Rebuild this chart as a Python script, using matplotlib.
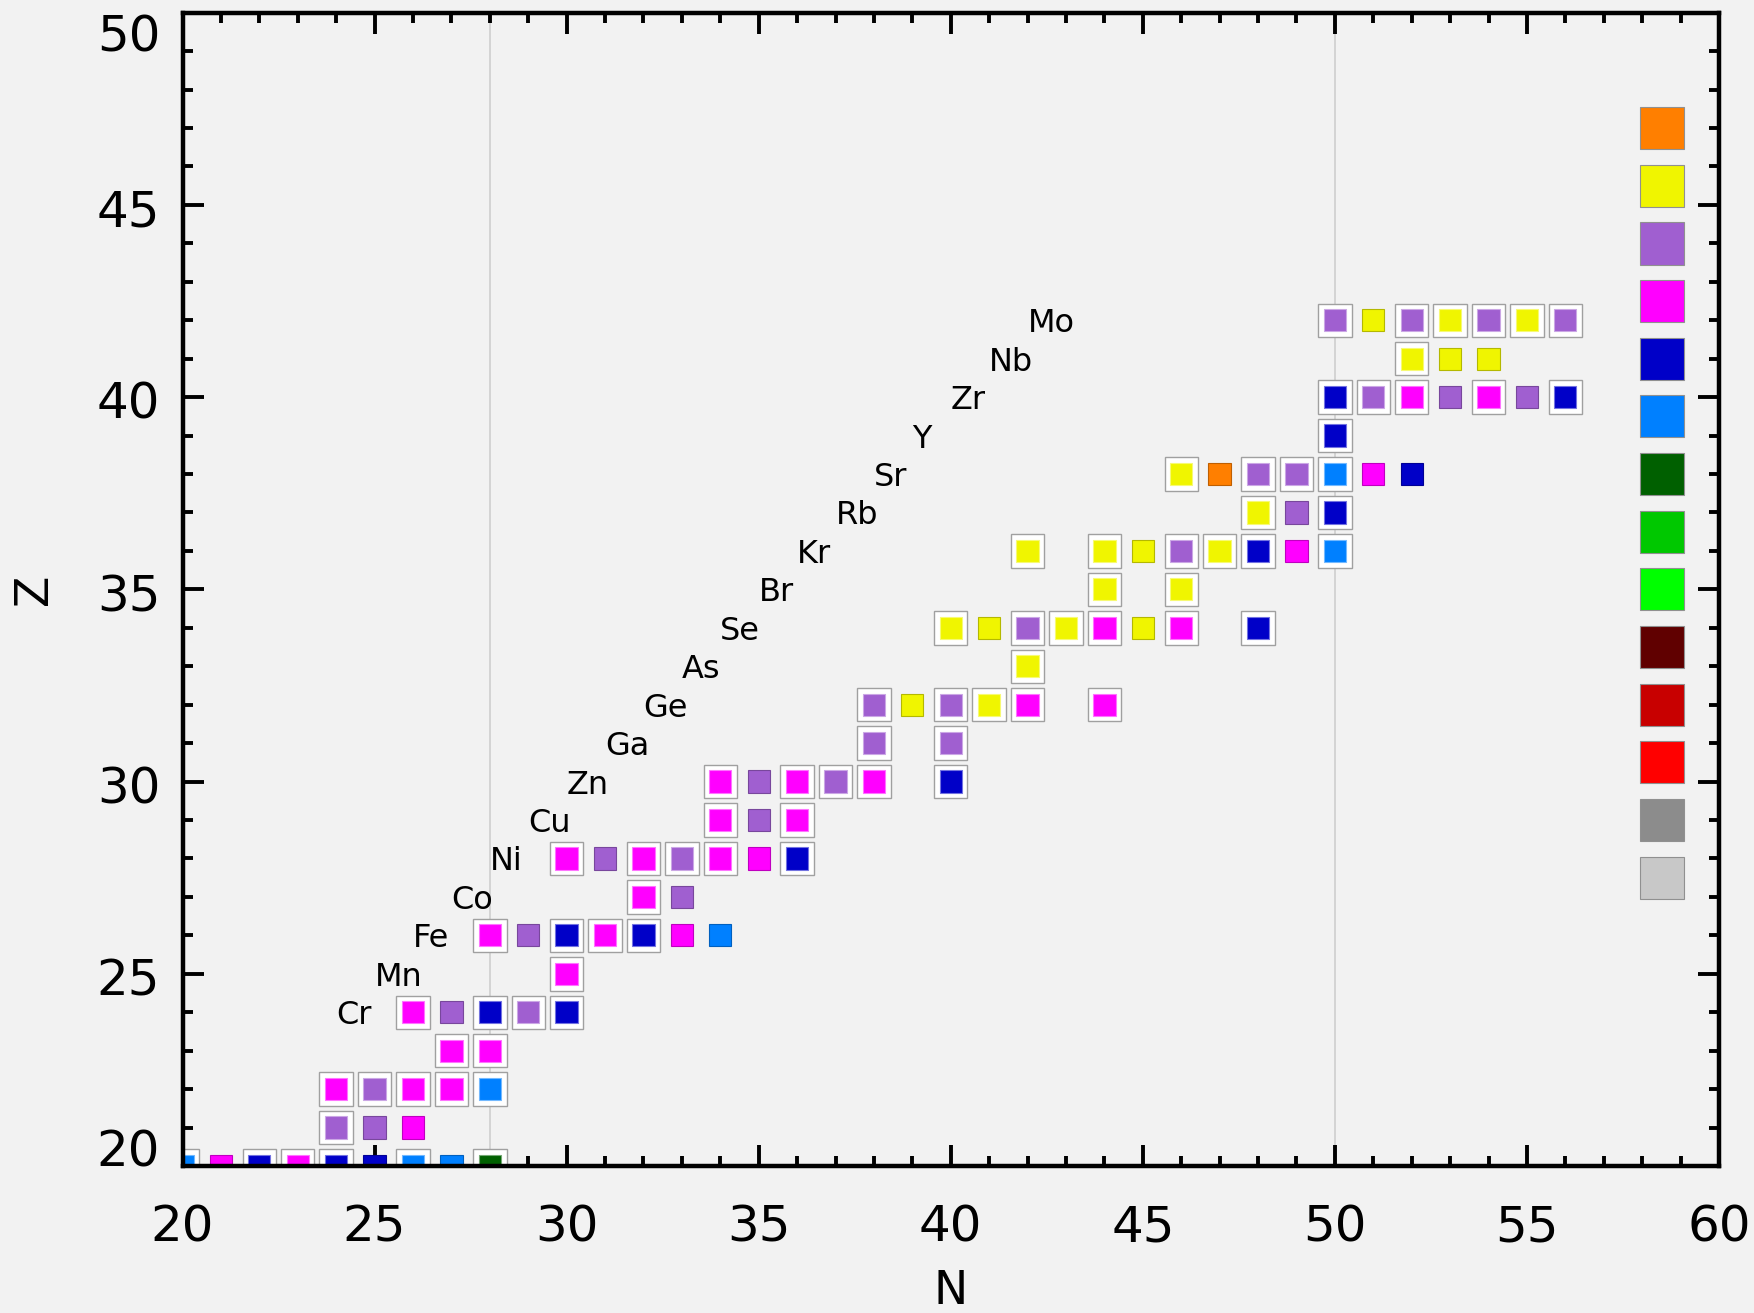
import matplotlib
matplotlib.use("Agg")
import matplotlib.pyplot as plt
from matplotlib.patches import Rectangle
from matplotlib.ticker import MultipleLocator
from matplotlib.colors import to_rgb
from matplotlib.transforms import ScaledTranslation

# Colour scale (top to bottom of the key on the right)
palette = ['#ff7f00', '#f0f500', '#a05fd0', '#ff00ff', '#0000c8', '#0080ff',
           '#006000', '#00c800', '#00ff00', '#600000', '#c80000', '#ff0000',
           '#8c8c8c', '#c8c8c8']
code_to_index = {'o': 0, 'y': 1, 'p': 2, 'm': 3, 'b': 4, 'a': 5, 'g': 6}

# Nuclides: proton number, neutron number, colour class, stable (1) or not (0)
iso_Z = [20, 20, 20, 20, 20, 20, 20, 20, 20,
         21, 21, 21,
         22, 22, 22, 22, 22,
         23, 23,
         24, 24, 24, 24, 24,
         25,
         26, 26, 26, 26, 26, 26, 26,
         27, 27,
         28, 28, 28, 28, 28, 28, 28,
         29, 29, 29,
         30, 30, 30, 30, 30, 30,
         31, 31,
         32, 32, 32, 32, 32, 32,
         33,
         34, 34, 34, 34, 34, 34, 34, 34,
         35, 35,
         36, 36, 36, 36, 36, 36, 36, 36,
         37, 37, 37,
         38, 38, 38, 38, 38, 38, 38,
         39,
         40, 40, 40, 40, 40, 40, 40,
         41, 41, 41,
         42, 42, 42, 42, 42, 42, 42]
iso_N = [20, 21, 22, 23, 24, 25, 26, 27, 28,
         24, 25, 26,
         24, 25, 26, 27, 28,
         27, 28,
         26, 27, 28, 29, 30,
         30,
         28, 29, 30, 31, 32, 33, 34,
         32, 33,
         30, 31, 32, 33, 34, 35, 36,
         34, 35, 36,
         34, 35, 36, 37, 38, 40,
         38, 40,
         38, 39, 40, 41, 42, 44,
         42,
         40, 41, 42, 43, 44, 45, 46, 48,
         44, 46,
         42, 44, 45, 46, 47, 48, 49, 50,
         48, 49, 50,
         46, 47, 48, 49, 50, 51, 52,
         50,
         50, 51, 52, 53, 54, 55, 56,
         52, 53, 54,
         50, 51, 52, 53, 54, 55, 56]
iso_class = ['a', 'm', 'b', 'm', 'b', 'b', 'a', 'a', 'g',
             'p', 'p', 'm',
             'm', 'p', 'm', 'm', 'a',
             'm', 'm',
             'm', 'p', 'b', 'p', 'b',
             'm',
             'm', 'p', 'b', 'm', 'b', 'm', 'a',
             'm', 'p',
             'm', 'p', 'm', 'p', 'm', 'm', 'b',
             'm', 'p', 'm',
             'm', 'p', 'm', 'p', 'm', 'b',
             'p', 'p',
             'p', 'y', 'p', 'y', 'm', 'm',
             'y',
             'y', 'y', 'p', 'y', 'm', 'y', 'm', 'b',
             'y', 'y',
             'y', 'y', 'y', 'p', 'y', 'b', 'm', 'a',
             'y', 'p', 'b',
             'y', 'o', 'p', 'p', 'a', 'm', 'b',
             'b',
             'b', 'p', 'm', 'p', 'm', 'p', 'b',
             'y', 'y', 'y',
             'p', 'y', 'p', 'y', 'p', 'y', 'p']
iso_stable = [1, 0, 1, 1, 1, 0, 1, 0, 1,
              1, 0, 0,
              1, 1, 1, 1, 1,
              1, 1,
              1, 0, 1, 1, 1,
              1,
              1, 0, 1, 1, 1, 0, 0,
              1, 0,
              1, 0, 1, 1, 1, 0, 1,
              1, 0, 1,
              1, 0, 1, 1, 1, 1,
              1, 1,
              1, 0, 1, 1, 1, 1,
              1,
              1, 0, 1, 1, 1, 0, 1, 1,
              1, 1,
              1, 1, 0, 1, 1, 1, 0, 1,
              1, 0, 1,
              1, 0, 1, 1, 1, 0, 0,
              1,
              1, 1, 1, 0, 1, 0, 1,
              1, 0, 0,
              1, 0, 1, 1, 1, 1, 1]

# Element names written along the diagonal
elem_Z = list(range(24, 43))
elem_sym = ['Cr', 'Mn', 'Fe', 'Co', 'Ni', 'Cu', 'Zn', 'Ga', 'Ge', 'As',
            'Se', 'Br', 'Kr', 'Rb', 'Sr', 'Y', 'Zr', 'Nb', 'Mo']

magic_N = [28, 50]

x_ticks = [20, 25, 30, 35, 40, 45, 50, 55, 60]
y_ticks = [20, 25, 30, 35, 40, 45, 50]

BG = '#f2f2f2'
INNER = 0.58
FRAME = 0.87


def shade(col, f):
    r, g, b = to_rgb(col)
    return (r * f, g * f, b * f)


def tint(col, f):
    r, g, b = to_rgb(col)
    return (r + (1 - r) * f, g + (1 - g) * f, b + (1 - b) * f)


fig = plt.figure(figsize=(17.54, 13.13), dpi=100, facecolor=BG)
ax = fig.add_axes([182.5 / 1754, 1 - 1166 / 1313, (1719 - 182.5) / 1754, (1166 - 12.7) / 1313])
ax.set_facecolor(BG)
ax.set_xlim(x_ticks[0], x_ticks[-1])
ax.set_ylim(y_ticks[0], y_ticks[-1])

for n in magic_N:
    ax.axvline(n, color='#cccccc', lw=1.1, zorder=1)

for z, n, c, s in zip(iso_Z, iso_N, iso_class, iso_stable):
    col = palette[code_to_index[c]]
    if s:
        ax.add_patch(Rectangle((n - FRAME / 2, z - FRAME / 2), FRAME, FRAME,
                               facecolor='white', edgecolor='#a0a0a0', lw=1.0, zorder=3))
        edge = tint(col, 0.45)
    else:
        edge = shade(col, 0.75)
    ax.add_patch(Rectangle((n - INNER / 2, z - INNER / 2), INNER, INNER,
                           facecolor=col, edgecolor=edge, lw=0.8, zorder=3.2))

for z, sym in zip(elem_Z, elem_sym):
    ax.text(z, z, sym, ha='left', va='center_baseline', fontsize=23,
            family='DejaVu Sans', color='black', zorder=4)

# Colour key
key_w, key_h, key_step = 1.15, 1.1, 1.5
for i, col in enumerate(palette):
    zc = 47.0 - key_step * i
    ax.add_patch(Rectangle((57.95, zc - key_h / 2), key_w, key_h,
                           facecolor=col, edgecolor='#909090', lw=0.8, zorder=3))

ax.xaxis.set_major_locator(MultipleLocator(5))
ax.xaxis.set_minor_locator(MultipleLocator(1))
ax.yaxis.set_major_locator(MultipleLocator(5))
ax.yaxis.set_minor_locator(MultipleLocator(1))
ax.set_xticks(x_ticks)
ax.set_yticks(y_ticks)
ax.tick_params(which='both', direction='in', top=True, right=True, color='black')
ax.tick_params(which='major', length=15, width=2.8)
ax.tick_params(which='minor', length=7, width=2.8)
ax.tick_params(axis='x', which='major', labelsize=36, pad=27)
ax.tick_params(axis='y', which='major', labelsize=36, pad=16)

# Keep the end labels of the Z axis inside the frame height
ymajor = ax.yaxis.get_major_ticks()
for tick, val in zip(ymajor, y_ticks):
    if val == y_ticks[0]:
        dy = 13 / 72
    elif val == y_ticks[-1]:
        dy = -14 / 72
    else:
        dy = -2 / 72
    tick.label1.set_transform(tick.label1.get_transform() +
                              ScaledTranslation(0, dy, fig.dpi_scale_trans))

for sp in ax.spines.values():
    sp.set_linewidth(3.2)
    sp.set_zorder(5)

ax.set_xlabel('N', fontsize=33, va='center')
ax.xaxis.set_label_coords(0.5, -0.109)
ax.set_ylabel('Z', fontsize=33, va='center')
ax.yaxis.set_label_coords(-0.0966, 0.5)

fig.savefig('out.png', dpi=100, facecolor=BG)
